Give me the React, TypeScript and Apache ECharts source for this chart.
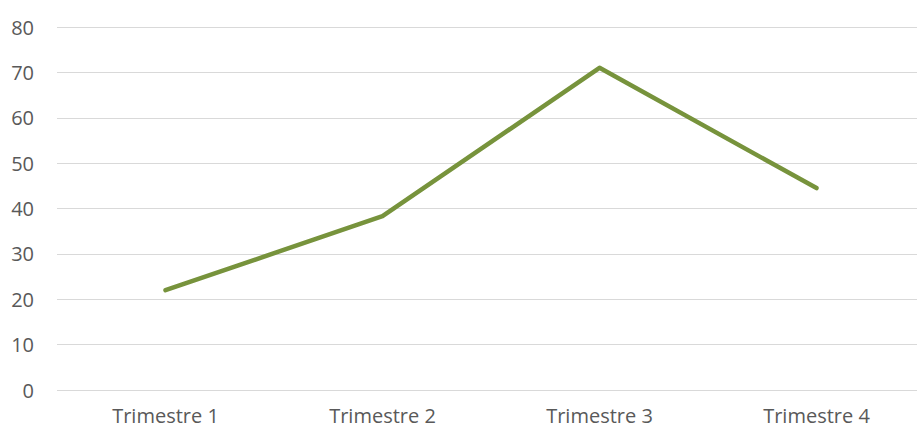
import React, { useEffect, useRef } from "react";
import * as echarts from "echarts";

const categories = ["Trimestre 1", "Trimestre 2", "Trimestre 3", "Trimestre 4"];
const values = [22, 38.3, 71, 44.5];

export default function App() {
  const ref = useRef<HTMLDivElement>(null);
  useEffect(() => {
    const chart = echarts.init(ref.current!, null, { renderer: "svg" });
    chart.setOption({
      animation: false,
      grid: { left: 57, top: 27, width: 868, height: 363, containLabel: false },
      xAxis: {
        type: "category",
        data: categories,
        boundaryGap: true,
        axisLine: { show: false },
        axisTick: { show: false },
        axisLabel: { color: "#595959", fontSize: 20, lineHeight: 20, fontFamily: "Open Sans", margin: 15 },
      },
      yAxis: {
        type: "value",
        min: 0,
        max: 80,
        interval: 10,
        axisLine: { show: false },
        axisTick: { show: false },
        splitLine: { lineStyle: { color: "#d9d9d9", width: 1 } },
        axisLabel: { color: "#595959", fontSize: 20, fontFamily: "Open Sans", margin: 23 },
      },
      series: [
        {
          type: "line",
          data: values,
          showSymbol: false,
          lineStyle: { color: "#77933c", width: 4.5, cap: "round", join: "round" },
        },
      ],
    });
    return () => chart.dispose();
  }, []);
  return (
    <div style={{ position: "absolute", left: 0, top: 0, width: 917, height: 430, overflow: "hidden", background: "#fff" }}>
      <div ref={ref} style={{ width: 940, height: 430 }} />
    </div>
  );
}
